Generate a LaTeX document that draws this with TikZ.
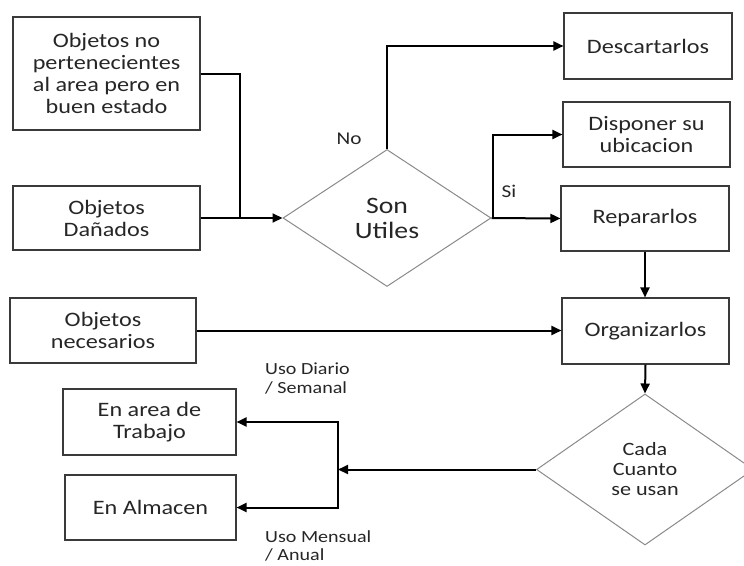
\documentclass[tikz,border=0pt]{standalone}
\usepackage{fontspec}
\setmainfont{Carlito}[FakeStretch=1.18]
\usetikzlibrary{shapes.geometric,arrows.meta}
\definecolor{boxline}{HTML}{3A3A3A}
\definecolor{diaLine}{HTML}{8A8A8A}
\definecolor{txt}{HTML}{262626}
\begin{document}
\begin{tikzpicture}[x=1pt,y=-1pt,
  every node/.style={text=txt},
  stepbox/.style={draw=boxline,line width=1.1pt,rectangle,inner sep=0pt,align=center,
    font=\fontsize{20.5}{22}\selectfont},
  decision/.style={draw=diaLine,line width=1pt,diamond,inner sep=0pt,aspect=1.5,align=center},
  flow/.style={line width=2pt,draw=black},
  arr/.style={flow,-{Triangle[length=10pt,width=9pt]}},
  tag/.style={inner sep=0pt,font=\fontsize{18}{19}\selectfont},
  usage/.style={inner sep=0pt,align=left,anchor=north west,font=\fontsize{17}{18.5}\selectfont}]
\useasboundingbox (0,0) rectangle (744,565);

% input boxes on the left
\node[stepbox,minimum width=187pt,minimum height=113pt] (b1) at (106.5,73.5)
  {Objetos no\\pertenecientes\\al area pero en\\buen estado};
\node[stepbox,minimum width=187pt,minimum height=64pt] (b2) at (106.5,218) {Objetos\\Dañados};
\node[stepbox,minimum width=186pt,minimum height=65pt] (b3) at (103,330.5) {Objetos\\necesarios};

% storage places
\node[stepbox,minimum width=173pt,minimum height=66pt] (b4) at (149.5,422) {En area de\\Trabajo};
\node[stepbox,minimum width=171pt,minimum height=65pt] (b5) at (150.5,507.5) {En Almacen};

% actions on the right
\node[stepbox,minimum width=168pt,minimum height=66pt] (desc) at (648,46) {Descartarlos};
\node[stepbox,minimum width=167pt,minimum height=65pt] (disp) at (646.5,134.5) {Disponer su\\ubicacion};
\node[stepbox,minimum width=168pt,minimum height=65pt] (rep) at (645,218.5) {Repararlos};
\node[stepbox,minimum width=167pt,minimum height=66pt] (org) at (645.5,331) {Organizarlos};

% decisions
\node[decision,minimum width=208pt,minimum height=137pt,
  font=\fontsize{23.5}{25}\selectfont] (d1) at (387,218) {Son\\Utiles};
\node[decision,minimum width=217pt,minimum height=151pt,
  font=\fontsize{18.8}{20}\selectfont] (d2) at (645,469.5) {Cada\\Cuanto\\se usan};

% junction points
\coordinate (j1) at (240,218);
\coordinate (j2) at (493,218);
\coordinate (j3) at (338,469.5);

% connectors
\draw[flow] (b1.east) -| (j1);
\draw[arr] (b2.east) -- (d1.west);
\draw[arr] (d1.north) |- (desc.west);
\draw[arr] (d1.east) -- (rep.west);
\draw[arr] (j2) |- (disp.west);
\draw[arr] (rep.south) -- (rep.south |- org.north);
\draw[arr] (b3.east) -- (b3.east -| org.west);
\draw[arr] (org.south) -- (d2.north);
\draw[arr] (d2.west) -- (j3);
\draw[arr] (j3) |- (b4.east);
\draw[arr] (j3) |- (b5.east);

% branch labels
\node[tag] (no) at (349,139) {No};
\node[tag] (si) at (509,191) {Si};
\node[usage] (ud) at (265,363) {Uso Diario\\/ Semanal};
\node[usage] (um) at (265,530) {Uso Mensual\\/ Anual};
\end{tikzpicture}
\end{document}
